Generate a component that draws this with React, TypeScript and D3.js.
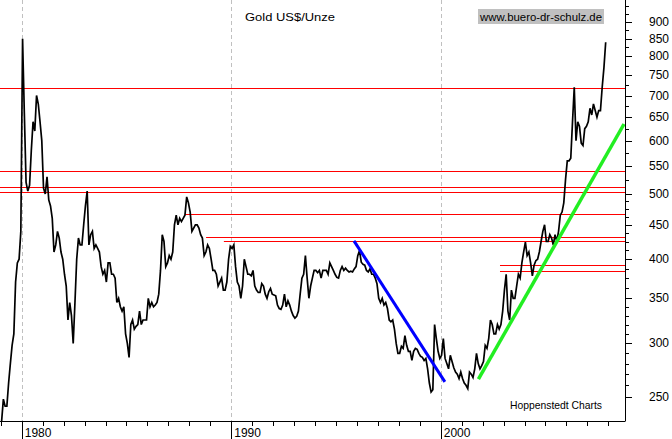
import * as d3 from 'd3';

// monthly gold prices (US$/oz)
const gold1979 = [230, 248, 242, 242, 262, 280, 298, 310, 370, 395, 400, 440];
const gold1980 = [850, 660, 520, 505, 515, 580, 640, 620, 700, 680, 640, 600];
const gold1981 = [510, 500, 530, 490, 480, 460, 410, 420, 440, 430, 410, 400];
const gold1982 = [380, 365, 325, 345, 330, 300, 345, 400, 430, 420, 420, 450];
const gold1983 = [480, 505, 420, 435, 440, 415, 420, 415, 410, 390, 380, 385];
const gold1984 = [370, 395, 395, 380, 380, 375, 345, 350, 340, 335, 340, 310];
const gold1985 = [300, 286, 320, 325, 315, 318, 320, 335, 320, 325, 325, 325];
const gold1986 = [350, 340, 345, 340, 342, 345, 355, 385, 435, 425, 390, 395];
const gold1987 = [405, 400, 410, 450, 465, 450, 460, 455, 460, 465, 495, 485];
const gold1988 = [470, 440, 445, 450, 450, 445, 435, 430, 405, 410, 420, 415];
const gold1989 = [400, 385, 385, 380, 365, 370, 375, 360, 360, 370, 400, 418];
const gold1990 = [415, 420, 390, 370, 365, 350, 365, 400, 390, 380, 380, 378];
const gold1991 = [385, 365, 360, 357, 357, 368, 365, 355, 350, 358, 362, 355];
const gold1992 = [354, 353, 342, 338, 337, 342, 355, 340, 347, 342, 335, 330];
const gold1993 = [327, 329, 335, 355, 375, 380, 405, 375, 350, 365, 375, 385];
const gold1994 = [385, 382, 385, 375, 385, 385, 385, 380, 395, 390, 385, 380];
const gold1995 = [376, 375, 385, 390, 385, 388, 385, 383, 384, 383, 387, 390];
const gold1996 = [405, 412, 396, 393, 392, 385, 383, 387, 380, 380, 375, 368];
const gold1997 = [350, 345, 350, 342, 345, 338, 325, 323, 325, 315, 300, 290];
const gold1998 = [290, 297, 295, 308, 298, 292, 292, 283, 292, 295, 294, 290];
const gold1999 = [287, 286, 283, 285, 275, 262, 254, 256, 320, 305, 292, 285];
const gold2000 = [288, 305, 285, 280, 275, 288, 282, 276, 272, 270, 266, 272];
const gold2001 = [266, 262, 260, 257, 272, 270, 267, 275, 290, 280, 275, 278];
const gold2002 = [282, 298, 295, 305, 325, 320, 310, 310, 320, 315, 320, 335];
const gold2003 = [360, 380, 335, 325, 360, 350, 350, 365, 380, 375, 395, 410];
const gold2004 = [424, 405, 410, 395, 378, 392, 398, 400, 410, 425, 440, 450];
const gold2005 = [425, 425, 435, 430, 420, 435, 425, 440, 465, 470, 485, 525];
const gold2006 = [560, 560, 565, 640, 720, 600, 640, 630, 595, 590, 625, 630];
const gold2007 = [640, 670, 655, 680, 665, 650, 665, 665, 720, 770, 840];

const goldByYear: [number, number[]][] = [
  [1979, gold1979], [1980, gold1980], [1981, gold1981], [1982, gold1982],
  [1983, gold1983], [1984, gold1984], [1985, gold1985], [1986, gold1986],
  [1987, gold1987], [1988, gold1988], [1989, gold1989], [1990, gold1990],
  [1991, gold1991], [1992, gold1992], [1993, gold1993], [1994, gold1994],
  [1995, gold1995], [1996, gold1996], [1997, gold1997], [1998, gold1998],
  [1999, gold1999], [2000, gold2000], [2001, gold2001], [2002, gold2002],
  [2003, gold2003], [2004, gold2004], [2005, gold2005], [2006, gold2006],
  [2007, gold2007],
];

// support / resistance lines: price level and the year where they start
const levelValues = [718, 541, 512, 503, 467, 431, 426, 392, 384];
const levelStarts = [1978, 1978, 1978, 1978, 1987.8, 1988.8, 1989.65, 2002.83, 2002.83];

// trend lines [year, price]
const downTrend: [number, number][] = [[1995.86, 426], [2000.2, 263]];
const upTrend: [number, number][] = [[2001.8, 265.6], [2008.75, 635]];

const yLabels = [250, 300, 350, 400, 450, 500, 550, 600, 650, 700, 750, 800, 850, 900];
const yearLabels = [1980, 1990, 2000];

const W = 672;
const H = 439;
const plotRight = 625;
const plotBottom = 421;
const font = '"Liberation Sans", Arial, sans-serif';

export default function App() {
  const x = d3.scaleLinear().domain([1978.964, 2008.797]).range([0, plotRight]);
  const y = d3.scaleLog().domain([230.1, 970.3]).range([plotBottom, 0]);

  const points: [number, number][] = [];
  goldByYear.forEach(([yr, vals]) => {
    vals.forEach((v, m) => points.push([yr + (m + 0.5) / 12, v]));
  });

  const line = d3
    .line<[number, number]>()
    .x((d) => x(d[0]))
    .y((d) => y(d[1]));

  const minorTicks = [
    ...d3.range(250, 350, 10),
    ...d3.range(350, 500, 12.5),
    ...d3.range(500, 975, 25),
  ];
  const years = d3.range(1979, 2009);

  return (
    <svg
      width={W}
      height={H}
      style={{ position: 'absolute', left: 0, top: 0, background: '#fff' }}
      fontFamily={font}
    >
      <defs>
        <clipPath id="plot">
          <rect x={0} y={0} width={plotRight} height={plotBottom} />
        </clipPath>
      </defs>

      {yearLabels.map((yr) => (
        <line
          key={'g' + yr}
          x1={Math.round(x(yr)) + 0.5}
          x2={Math.round(x(yr)) + 0.5}
          y1={0}
          y2={plotBottom}
          stroke="#c0c0c0"
          strokeDasharray="4,3"
        />
      ))}

      {levelValues.map((v, i) => (
        <line
          key={'l' + i}
          x1={Math.max(0, x(levelStarts[i]))}
          x2={plotRight}
          y1={Math.round(y(v)) + 0.5}
          y2={Math.round(y(v)) + 0.5}
          stroke="#ff0000"
          strokeWidth={1}
        />
      ))}

      <g clipPath="url(#plot)">
        <path d={line(points) ?? ''} fill="none" stroke="#000" strokeWidth={1.7} strokeLinejoin="miter" />
        <path d={line(downTrend) ?? ''} stroke="#0000ff" strokeWidth={3} />
        <path d={line(upTrend) ?? ''} stroke="#22ee22" strokeWidth={3.5} />
      </g>

      {/* right axis */}
      <line x1={plotRight + 0.5} x2={plotRight + 0.5} y1={0} y2={plotBottom + 0.5} stroke="#000" />
      {minorTicks.map((v) => (
        <line
          key={'t' + v}
          x1={plotRight}
          x2={plotRight + (yLabels.includes(v) ? 7 : 4)}
          y1={Math.round(y(v)) + 0.5}
          y2={Math.round(y(v)) + 0.5}
          stroke="#000"
        />
      ))}
      {yLabels.map((v) => (
        <text key={'yl' + v} x={669} y={y(v) + 4} fontSize={12} textAnchor="end" fill="#000">
          {v}
        </text>
      ))}

      {/* bottom axis */}
      <line x1={0} x2={plotRight} y1={plotBottom + 0.5} y2={plotBottom + 0.5} stroke="#000" />
      {years.map((yr) => (
        <line
          key={'yt' + yr}
          x1={Math.round(x(yr)) + 0.5}
          x2={Math.round(x(yr)) + 0.5}
          y1={plotBottom}
          y2={yearLabels.includes(yr) ? H : plotBottom + 5}
          stroke="#000"
        />
      ))}
      {yearLabels.map((yr) => (
        <text key={'xl' + yr} x={x(yr) + 3} y={437} fontSize={12} fill="#000">
          {yr}
        </text>
      ))}

      <text x={245} y={21} fontSize={11.5} textLength={90} lengthAdjust="spacingAndGlyphs">
        Gold US$/Unze
      </text>
      <rect x={478} y={9} width={126} height={15} fill="#c0c0c0" />
      <text x={480} y={21} fontSize={11.5} textLength={122} lengthAdjust="spacingAndGlyphs">
        www.buero-dr-schulz.de
      </text>
      <text x={510} y={409} fontSize={11.5} textLength={92} lengthAdjust="spacingAndGlyphs">
        Hoppenstedt Charts
      </text>
    </svg>
  );
}
